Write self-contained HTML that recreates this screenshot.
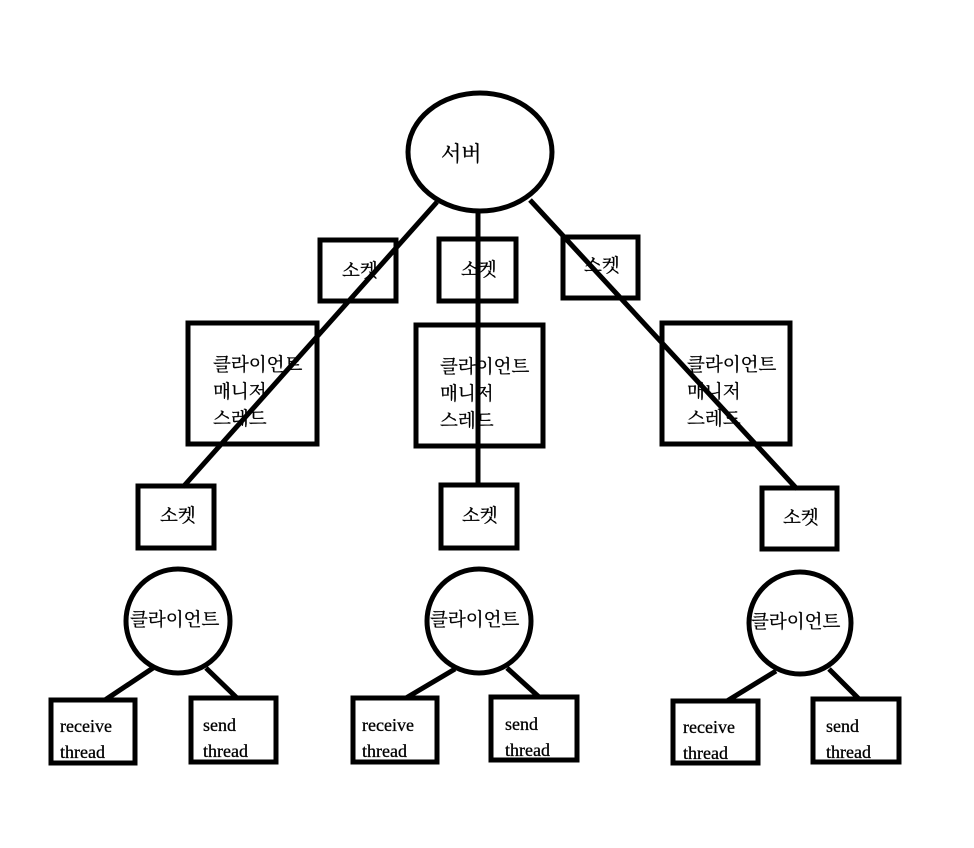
<!DOCTYPE html>
<html><head><meta charset="utf-8"><style>
html,body{margin:0;padding:0;background:#fff;}
svg{display:block;}
text{font-family:"Liberation Serif","Noto Serif CJK KR","Noto Serif CJK SC",serif;fill:#000;stroke:#000;stroke-width:0.3px;}
.k{font-size:18.5px;}
.e{font-size:18px;}
</style></head><body>
<svg width="974" height="848" viewBox="0 0 974 848" xmlns="http://www.w3.org/2000/svg">
<rect width="974" height="848" fill="#fff"/>
<g stroke="#000" stroke-width="5" fill="none">
<ellipse cx="480" cy="152" rx="72" ry="59"/>
<line x1="437" y1="202" x2="183" y2="487"/>
<line x1="478" y1="212" x2="478" y2="487"/>
<line x1="530" y1="200" x2="797" y2="489"/>
<rect x="320" y="240" width="76" height="61"/>
<rect x="439" y="239" width="77" height="62"/>
<rect x="563" y="237" width="75" height="61"/>
<rect x="188" y="323" width="129" height="121"/>
<rect x="416" y="325" width="127" height="121"/>
<rect x="662" y="323" width="128" height="121"/>
<rect x="138" y="486" width="76" height="62"/>
<rect x="441" y="485" width="76" height="63"/>
<rect x="762" y="488" width="75" height="61"/>
<circle cx="178" cy="621" r="52"/>
<circle cx="479" cy="621" r="52"/>
<circle cx="800" cy="623" r="51"/>
<line x1="153" y1="668" x2="105" y2="700"/>
<line x1="206" y1="668" x2="237" y2="698"/>
<line x1="455" y1="669" x2="406" y2="698"/>
<line x1="507" y1="668" x2="539" y2="697"/>
<line x1="776" y1="671" x2="727" y2="701"/>
<line x1="829" y1="669" x2="859" y2="699"/>
<rect x="51" y="700" width="84" height="63"/>
<rect x="191" y="698" width="85" height="64"/>
<rect x="353" y="698" width="84" height="64"/>
<rect x="491" y="697" width="86" height="63"/>
<rect x="673" y="701" width="85" height="62"/>
<rect x="813" y="699" width="86" height="63"/>
</g>
<text x="441" y="161" style="font-size:21px">서버</text>
<text class="k" x="342" y="277">소켓</text>
<text class="k" x="461" y="276">소켓</text>
<text class="k" x="584" y="272">소켓</text>
<text class="k" x="213" y="371">클라이언트</text>
<text class="k" x="213" y="398">매니저</text>
<text class="k" x="213" y="425">스레드</text>
<text class="k" x="440" y="373">클라이언트</text>
<text class="k" x="440" y="400">매니저</text>
<text class="k" x="440" y="427">스레드</text>
<text class="k" x="687" y="371">클라이언트</text>
<text class="k" x="687" y="398">매니저</text>
<text class="k" x="687" y="425">스레드</text>
<text class="k" x="160" y="522">소켓</text>
<text class="k" x="462" y="522">소켓</text>
<text class="k" x="783" y="524">소켓</text>
<text class="k" x="130" y="626">클라이언트</text>
<text class="k" x="430" y="626">클라이언트</text>
<text class="k" x="751" y="628">클라이언트</text>
<text class="e" x="60" y="732">receive</text>
<text class="e" x="60" y="758">thread</text>
<text class="e" x="203" y="731">send</text>
<text class="e" x="203" y="757">thread</text>
<text class="e" x="362" y="731">receive</text>
<text class="e" x="362" y="757">thread</text>
<text class="e" x="505" y="730">send</text>
<text class="e" x="505" y="756">thread</text>
<text class="e" x="683" y="733">receive</text>
<text class="e" x="683" y="759">thread</text>
<text class="e" x="826" y="732">send</text>
<text class="e" x="826" y="758">thread</text>
</svg>
</body></html>
